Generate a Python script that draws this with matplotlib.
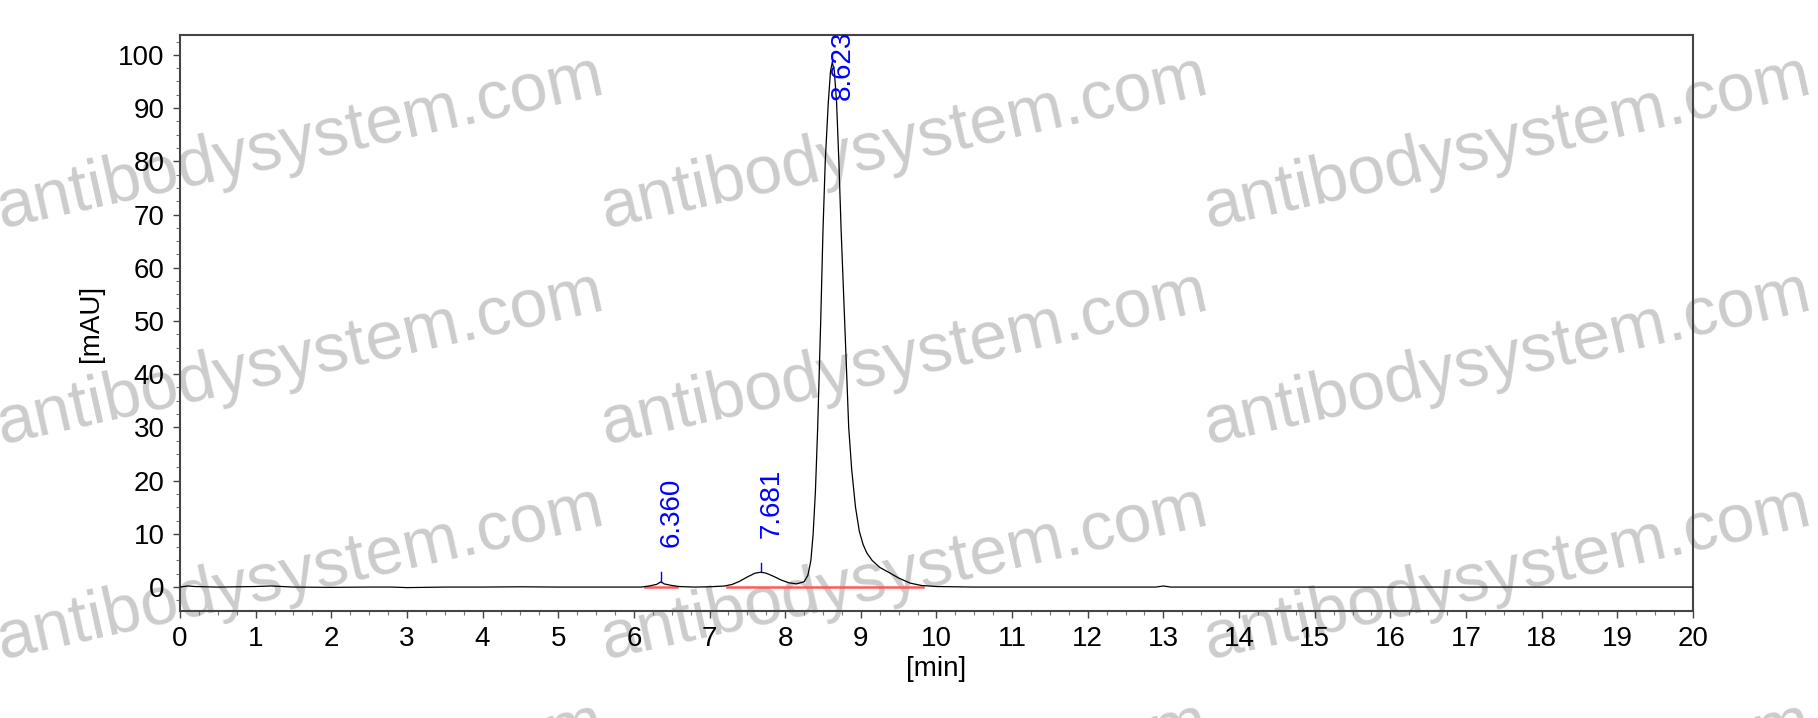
import matplotlib
matplotlib.use("Agg")
import matplotlib.pyplot as plt
from matplotlib.ticker import MultipleLocator

plt.rcParams['font.family'] = ['Liberation Sans', 'DejaVu Sans']

# chromatogram (time in min, signal in mAU)
time_min = [0.00, 0.10, 0.20, 0.50, 1.00, 1.20, 1.50, 2.00, 2.50, 2.80, 3.00,
            3.50, 4.00, 4.50, 5.00, 5.50, 5.80, 6.10, 6.20, 6.30, 6.36, 6.40,
            6.50, 6.60, 6.80, 7.00, 7.20, 7.30, 7.40, 7.50, 7.60, 7.681, 7.75,
            7.85, 7.95, 8.05, 8.15, 8.25, 8.30, 8.34, 8.37, 8.40, 8.43, 8.47,
            8.50, 8.53, 8.57, 8.60, 8.623, 8.65, 8.68, 8.71, 8.74, 8.77, 8.80,
            8.84, 8.88, 8.93, 8.98, 9.03, 9.08, 9.15, 9.25, 9.39, 9.50, 9.65,
            9.80, 10.0, 10.5, 11.0, 12.0, 12.9, 13.0, 13.1, 14.0, 15.0, 16.0,
            17.0, 18.0, 19.0, 20.0]
signal_mau = [0.0, 0.2, 0.1, 0.0, 0.1, 0.2, 0.0, -0.05, 0.0, 0.0, -0.1,
              0.0, 0.0, 0.05, 0.0, 0.0, 0.0, 0.0, 0.2, 0.5, 1.0, 0.6,
              0.3, 0.1, 0.0, 0.05, 0.2, 0.5, 1.1, 1.9, 2.6, 2.8, 2.6,
              2.0, 1.3, 0.8, 0.6, 1.0, 2.2, 5.0, 10.0, 18.0, 30.0, 50.0,
              67.0, 80.0, 91.0, 97.0, 98.6, 97.0, 91.0, 80.0, 67.0, 56.0, 45.0,
              30.0, 22.0, 15.0, 10.5, 8.0, 6.4, 5.0, 3.7, 2.6, 1.7, 0.75,
              0.3, 0.1, 0.0, 0.0, 0.0, 0.0, 0.2, 0.0, 0.0, 0.0, 0.0,
              0.0, 0.0, 0.0, 0.0]

# integration baselines (start, end)
baseline_start = [6.15, 7.23]
baseline_end = [6.57, 9.82]

# labelled peaks
peak_times = [6.360, 7.681, 8.623]
peak_heights = [1.0, 2.8, 98.6]
peak_labels = ["6.360", "7.681", "8.623"]

fig = plt.figure(figsize=(18.18, 7.18), dpi=100)
ax = fig.add_axes([0.099, 0.149, 0.8322, 0.802])
ax.patch.set_alpha(0)

ax.plot(time_min, signal_mau, color="black", lw=0.9, zorder=3)
for s, e in zip(baseline_start, baseline_end):
    ax.plot([s, e], [0, 0], color="#ff5a5a", lw=1.8, zorder=2)

for t, h, lab in zip(peak_times, peak_heights, peak_labels):
    ax.plot([t, t], [h, h + 1.8], color="blue", lw=1.0, zorder=4)
    ty = min(h + 6.5, 91.5)
    ax.text(t + 0.14, ty, lab, rotation=90, color="blue", fontsize=20,
            ha="center", va="bottom", zorder=5)

ax.set_xlim(0, 20)
ax.set_ylim(-4.5, 103.7)
ax.xaxis.set_major_locator(MultipleLocator(1))
ax.xaxis.set_minor_locator(MultipleLocator(0.25))
ax.yaxis.set_major_locator(MultipleLocator(10))
ax.yaxis.set_minor_locator(MultipleLocator(2.5))
ax.tick_params(axis="both", which="major", labelsize=20, length=5,
               width=1, color="#444444", direction="out")
ax.tick_params(axis="x", which="major", pad=6)
ax.tick_params(axis="y", which="major", pad=6)
ax.tick_params(axis="both", which="minor", length=3, width=0.8,
               color="#777777", direction="out")
for sp in ax.spines.values():
    sp.set_color("#444444")
    sp.set_linewidth(1.5)

ax.set_xlabel("[min]", fontsize=20, labelpad=3)
ax.set_ylabel("[mAU]", fontsize=20, labelpad=10)

# watermark
wm_x = [0.165, 0.497, 0.829]
wm_y = [0.80, 0.50, 0.20, -0.10]
for wx in wm_x:
    for wy in wm_y:
        fig.text(wx, wy, "antibodysystem.com", fontsize=49, color="#cccccc",
                 rotation=12.6, ha="center", va="center", zorder=-1)

fig.savefig("out.png", dpi=100)
